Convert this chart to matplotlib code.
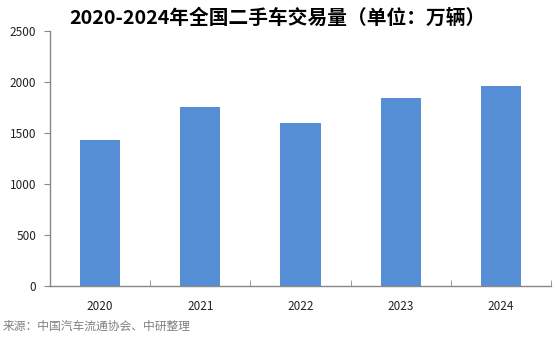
import matplotlib
matplotlib.use("Agg")
import matplotlib.pyplot as plt
from matplotlib.ticker import FixedLocator, NullFormatter

plt.rcParams['font.family'] = ['Noto Sans CJK SC', 'DejaVu Sans']

years = ['2020', '2021', '2022', '2023', '2024']
volumes = [1434.14, 1758.51, 1602.90, 1841.33, 1961.42]
yticks = [0, 500, 1000, 1500, 2000, 2500]
title = '2020-2024年全国二手车交易量（单位：万辆）'
source = '来源：中国汽车流通协会、中研整理'

fig = plt.figure(figsize=(5.55, 3.38), dpi=100)
ax = fig.add_axes([50/555, (338-286)/338, 501/555, (286-31)/338])

x = list(range(len(years)))
ax.bar(x, volumes, width=0.4, color='#558ED5', zorder=2)
ax.set_xlim(-0.5, len(years) - 0.5)
ax.set_ylim(0, 2500)
ax.set_yticks(yticks)
ax.set_yticklabels([str(v) for v in yticks], fontsize=8.5, color='#222222')
ax.set_xticks(x)
ax.set_xticklabels(years, fontsize=8.5, color='#222222')
ax.tick_params(axis='x', length=0, pad=10)
ax.xaxis.set_minor_locator(FixedLocator([i + 0.5 for i in x]))
ax.xaxis.set_minor_formatter(NullFormatter())
ax.tick_params(axis='x', which='minor', direction='in', length=4, color='#888888')
ax.tick_params(axis='y', direction='out', length=4, color='#888888', pad=6)

for s in ['top', 'right']:
    ax.spines[s].set_visible(False)
for s in ['left', 'bottom']:
    ax.spines[s].set_color('#888888')
    ax.spines[s].set_linewidth(1)

fig.text(277/555, 1 - 18/338, title, ha='center', va='center', fontsize=14.2,
         fontweight='bold', color='black')
fig.text(3/555, 1 - 326/338, source, ha='left', va='center', fontsize=8.5,
         color='#808080')

fig.savefig('out.png', dpi=100)
